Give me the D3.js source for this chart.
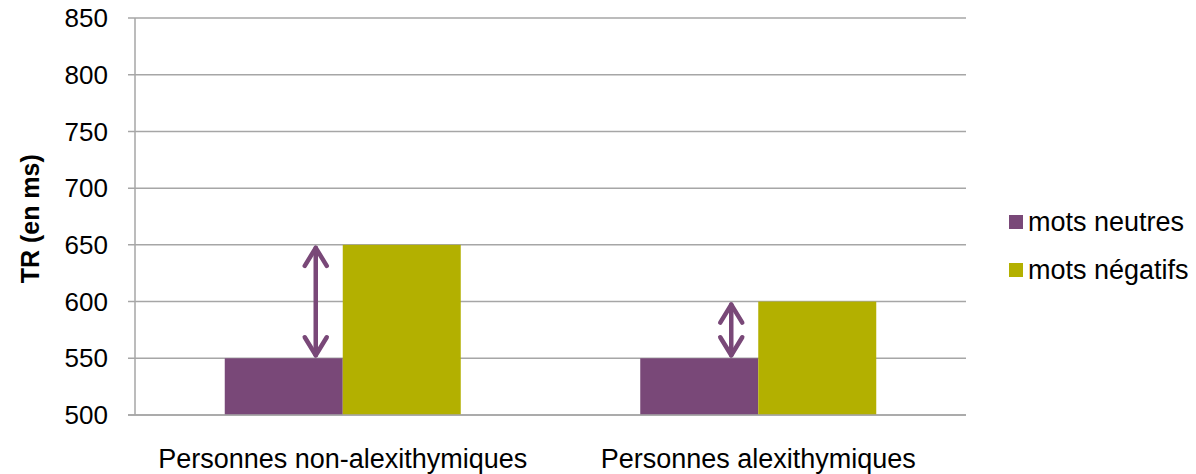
<html>
<head>
    <style>
        body { margin: 0; background-color: white; }
        #chart { width: 1196px; height: 474px; }
        text { font-family: "Liberation Sans", Arial, sans-serif; }
    </style>
</head>
<body>
    <div id="chart"></div>
    <script src="https://cdn.jsdelivr.net/npm/d3@7"></script>
    <script>
        const groups = ["Personnes non-alexithymiques", "Personnes alexithymiques"];
        const seriesNames = ["mots neutres", "mots négatifs"];
        const neutres = [550, 550];
        const negatifs = [650, 600];
        const yTicks = [500, 550, 600, 650, 700, 750, 800, 850];
        const colors = ["#794878", "#b3b000"];

        const width = 1196;
        const height = 474;
        const margin = { top: 18, right: 230, bottom: 59, left: 135 };

        const svg = d3.select('#chart').append('svg')
            .attr('width', width)
            .attr('height', height);

        const x = d3.scaleBand()
            .domain(groups)
            .range([margin.left, width - margin.right])
            .paddingInner(0)
            .paddingOuter(0);

        const y = d3.scaleLinear()
            .domain([500, 850])
            .range([height - margin.bottom, margin.top]);

        const barW = 118;

        // grid lines
        svg.append('g')
            .selectAll('line')
            .data(yTicks)
            .enter()
            .append('line')
            .attr('x1', margin.left - 7)
            .attr('x2', width - margin.right)
            .attr('y1', d => y(d))
            .attr('y2', d => y(d))
            .attr('stroke', '#a6a6a6')
            .attr('stroke-width', 1.5);

        // y axis line
        svg.append('line')
            .attr('x1', margin.left).attr('x2', margin.left)
            .attr('y1', y(850)).attr('y2', y(500))
            .attr('stroke', '#a6a6a6')
            .attr('stroke-width', 1.5);

        svg.append('g')
            .selectAll('text')
            .data(yTicks)
            .enter()
            .append('text')
            .attr('x', 108)
            .attr('y', d => y(d))
            .attr('dy', '0.35em')
            .attr('text-anchor', 'end')
            .style('font-size', '26px')
            .text(d => d);

        // bars
        const series = [neutres, negatifs];
        series.forEach((vals, s) => {
            svg.append('g')
                .selectAll('rect')
                .data(groups)
                .enter()
                .append('rect')
                .attr('x', (d) => x(d) + x.bandwidth() / 2 - barW + s * barW)
                .attr('width', barW)
                .attr('y', (d, i) => y(vals[i]))
                .attr('height', (d, i) => y(500) - y(vals[i]))
                .attr('fill', colors[s]);
        });

        // bottom axis line on top of bars
        svg.append('line')
            .attr('x1', margin.left - 7).attr('x2', width - margin.right)
            .attr('y1', y(500)).attr('y2', y(500))
            .attr('stroke', '#a6a6a6')
            .attr('stroke-width', 1.5);

        // double-headed arrows showing the difference
        groups.forEach((g, i) => {
            const ax = x(g) + x.bandwidth() / 2 - 27;
            const y1 = y(negatifs[i]);
            const y2 = y(neutres[i]);
            const arrow = svg.append('g')
                .attr('stroke', colors[0])
                .attr('stroke-width', 4.5)
                .attr('stroke-linecap', 'round')
                .attr('stroke-linejoin', 'round')
                .attr('fill', 'none');
            arrow.append('line')
                .attr('x1', ax).attr('x2', ax)
                .attr('y1', y1 + 3).attr('y2', y2 - 3);
            arrow.append('path')
                .attr('d', `M${ax - 11},${y1 + 21} L${ax},${y1 + 3} L${ax + 11},${y1 + 21}`);
            arrow.append('path')
                .attr('d', `M${ax - 11},${y2 - 21} L${ax},${y2 - 3} L${ax + 11},${y2 - 21}`);
        });

        // x labels
        svg.append('g')
            .selectAll('text')
            .data(groups)
            .enter()
            .append('text')
            .attr('x', d => x(d) + x.bandwidth() / 2)
            .attr('y', 468)
            .attr('text-anchor', 'middle')
            .style('font-size', '27px')
            .text(d => d);

        // y title
        svg.append('text')
            .attr('transform', `translate(39, ${y(673)}) rotate(-90)`)
            .attr('text-anchor', 'middle')
            .style('font-size', '25px')
            .style('font-weight', 'bold')
            .text('TR (en ms)');

        // legend
        const legend = svg.append('g')
            .selectAll('g')
            .data(seriesNames)
            .enter()
            .append('g')
            .attr('transform', (d, i) => `translate(1009, ${215 + i * 48})`);
        legend.append('rect')
            .attr('width', 14)
            .attr('height', 14)
            .attr('fill', (d, i) => colors[i]);
        legend.append('text')
            .attr('x', 19)
            .attr('y', 7)
            .attr('dy', '0.35em')
            .style('font-size', '27px')
            .text(d => d);
    </script>
</body>
</html>
